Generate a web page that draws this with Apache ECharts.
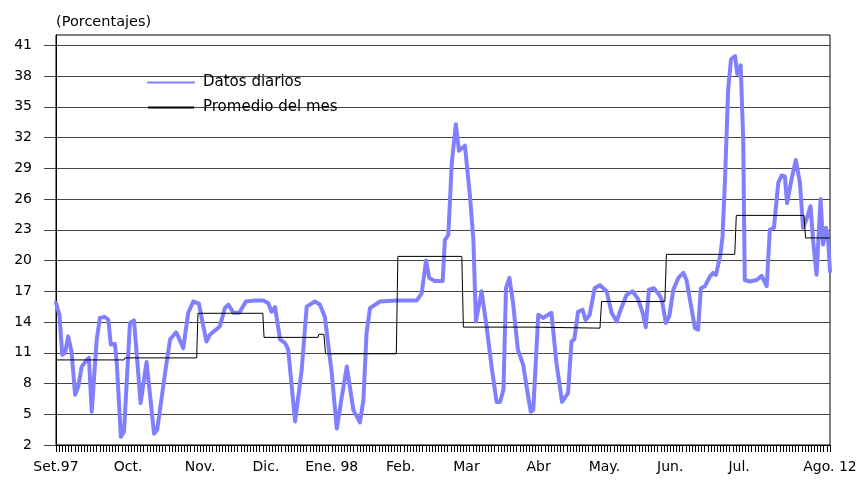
<!DOCTYPE html>
<html>
<head>
<meta charset="utf-8">
<script src="https://cdn.jsdelivr.net/npm/echarts@6/dist/echarts.min.js"></script>
<style>html,body{margin:0;padding:0;background:#fff}#c{width:861px;height:480px}</style>
</head>
<body>
<div id="c"></div>
<script>
// x = business-day index (0 = 1 Sep 1997, 247 = 12 Aug 1998)
const lastDay = 247;
const monthTickIdx = [0, 23, 46, 67, 88, 110, 131, 154, 175, 196, 218, 247];
const monthLabels = ['Set.97', 'Oct.', 'Nov.', 'Dic.', 'Ene. 98', 'Feb.', 'Mar', 'Abr', 'May.', 'Jun.', 'Jul.', 'Ago. 12'];
const yTicks = [2, 5, 8, 11, 14, 17, 20, 23, 26, 29, 32, 35, 38, 41];

// Datos diarios
const dailyX = [0,1.1,2.0,2.9,3.9,5.0,6.1,7.1,8.2,9.8,10.5,11.4,13.0,14.0,15.6,16.7,17.5,18.8,19.4,20.7,21.7,23.6,24.9,27.0,28.9,31.3,32.3,34.8,36.4,38.3,39.0,40.6,42.2,43.8,45.6,46.0,47.0,48.0,49.1,50.4,51.3,52.3,53.9,55.0,56.6,58.5,60.6,63.5,66.1,67.7,68.8,69.9,71.5,73.1,74.1,76.3,78.4,80.0,82.6,84.2,85.8,88.0,89.6,91.2,92.8,94.9,97.0,98.1,99.1,100.2,103.4,108.7,115.1,116.7,118.1,119.1,120.9,123.4,124.1,125.2,126.3,127.6,128.6,130.5,132.1,133.2,134.0,135.8,137.4,139.0,140.6,141.7,142.8,143.6,144.7,145.8,147.4,149.1,150.7,151.5,152.3,153.9,155.5,158.1,159.7,161.5,163.4,164.5,165.4,166.6,168.0,169.0,170.3,171.9,173.5,175.7,177.3,178.9,180.2,182.1,184.0,185.8,187.2,188.2,189.2,190.8,192.5,193.3,194.6,195.7,197.0,198.6,200.2,201.2,202.5,203.9,204.9,205.8,207.1,208.7,209.7,210.6,212.1,212.7,213.5,214.5,215.4,216.7,217.4,218.5,219.3,219.8,221.4,223.6,225.2,226.8,227.8,229.1,230.5,231.6,232.6,233.3,234.7,236.1,237.4,238.4,239.5,240.8,241.6,242.7,244.0,244.8,245.7,246.4,247.0];
const dailyY = [15.85,14.7,10.8,11.0,12.6,11.0,6.9,7.7,9.65,10.3,10.5,5.25,12.3,14.4,14.5,14.2,11.8,11.85,10.0,2.8,3.3,13.9,14.15,6.1,10.1,3.1,3.5,9.0,12.3,13.0,12.6,11.45,14.9,16.0,15.8,15.7,13.6,12.1,12.75,13.1,13.3,13.6,15.35,15.7,14.9,14.9,16.0,16.1,16.1,15.85,15.0,15.45,12.3,11.95,11.3,4.3,9.3,15.5,16.0,15.7,14.5,9.0,3.6,6.7,9.65,5.4,4.2,6.4,12.9,15.35,16.0,16.1,16.1,16.8,20.0,18.3,18.0,18.0,22.0,22.5,29.5,33.3,30.7,31.2,26.3,22.0,14.05,17.0,13.6,9.65,6.2,6.2,7.4,17.3,18.3,16.0,11.3,9.8,6.7,5.25,5.4,14.7,14.4,14.9,10.0,6.2,7.05,12.1,12.3,15.0,15.2,14.2,14.7,17.3,17.6,17.0,14.9,14.05,15.2,16.65,17.0,16.2,14.9,13.5,17.15,17.3,16.65,16.2,13.9,14.55,17.15,18.3,18.8,18.1,15.85,13.4,13.25,17.3,17.5,18.45,18.8,18.6,20.7,22.35,27.9,36.7,39.6,39.95,38.2,39.05,31.8,18.1,17.95,18.1,18.5,17.5,23.0,23.2,27.6,28.3,28.2,25.6,27.9,29.8,27.6,23.2,24.0,25.3,22.0,18.6,26.0,21.55,23.2,22.0,18.95];

// Promedio del mes (step line vertices)
const avgX = [0,21.7,22.0,44.9,45.3,66.0,66.4,83.6,83.9,85.5,86.0,108.6,109.1,129.5,130.0,152.2,152.5,173.6,174.1,194.3,194.8,216.6,217.1,238.7,239.2,247];
const avgY = [10.3,10.3,10.5,10.5,14.85,14.85,12.5,12.5,12.8,12.8,10.9,10.9,20.4,20.4,13.5,13.5,13.4,13.4,16.0,16.0,20.6,20.6,24.4,24.4,22.2,22.2];

const font = 'DejaVu Sans';
const chart = echarts.init(document.getElementById('c'), null, {renderer: 'canvas'});
chart.setOption({
  animation: false,
  backgroundColor: '#fff',
  title: {
    text: '(Porcentajes)', left: 51, top: 10,
    textStyle: {fontFamily: font, fontSize: 14.5, fontWeight: 'normal', color: '#000'}
  },
  legend: {
    orient: 'vertical', left: 147, top: 75, padding: 0, itemGap: 10,
    itemWidth: 46, itemHeight: 14,
    itemStyle: {color: 'rgba(0,0,0,0)', borderWidth: 0, opacity: 0},
    textStyle: {fontFamily: font, fontSize: 15, color: '#000', padding: [0, 0, 0, 4]},
    data: ['Datos diarios', 'Promedio del mes']
  },
  grid: {left: 56, right: 31, top: 35, bottom: 35, show: true, borderColor: '#000', borderWidth: 1, containLabel: false},
  xAxis: {
    type: 'value', min: 0, max: lastDay, interval: 13,
    axisLine: {show: true, lineStyle: {color: '#000', width: 1}},
    axisTick: {show: true, length: 7, lineStyle: {color: '#000', width: 1}},
    minorTick: {show: true, splitNumber: 13, length: 7, lineStyle: {color: '#000', width: 1}},
    axisLabel: {
      customValues: monthTickIdx,
      margin: 15, fontFamily: font, fontSize: 14, color: '#000',
      formatter: v => { const i = monthTickIdx.indexOf(Math.round(v)); return i >= 0 ? monthLabels[i] : ''; }
    },
    splitLine: {show: false}
  },
  yAxis: {
    type: 'value', min: 2, max: 42,
    axisLine: {show: true, lineStyle: {color: '#000', width: 1}},
    axisTick: {show: true, customValues: yTicks, length: 12, lineStyle: {color: '#444'}},
    axisLabel: {customValues: yTicks, margin: 24, fontFamily: font, fontSize: 14, color: '#000'},
    splitLine: {show: true, lineStyle: {color: '#444', width: 1}}
  },
  series: [
    {
      name: 'Datos diarios', type: 'line', symbol: 'none',
      data: dailyX.map((x, i) => [x, dailyY[i]]),
      lineStyle: {color: '#8080ff', width: 4, join: 'round', cap: 'round'},
      itemStyle: {color: '#8080ff'}
    },
    {
      name: 'Promedio del mes', type: 'line', symbol: 'none',
      data: avgX.map((x, i) => [x, avgY[i]]),
      lineStyle: {color: '#000', width: 1},
      itemStyle: {color: '#000'}
    }
  ]
});
</script>
</body>
</html>
